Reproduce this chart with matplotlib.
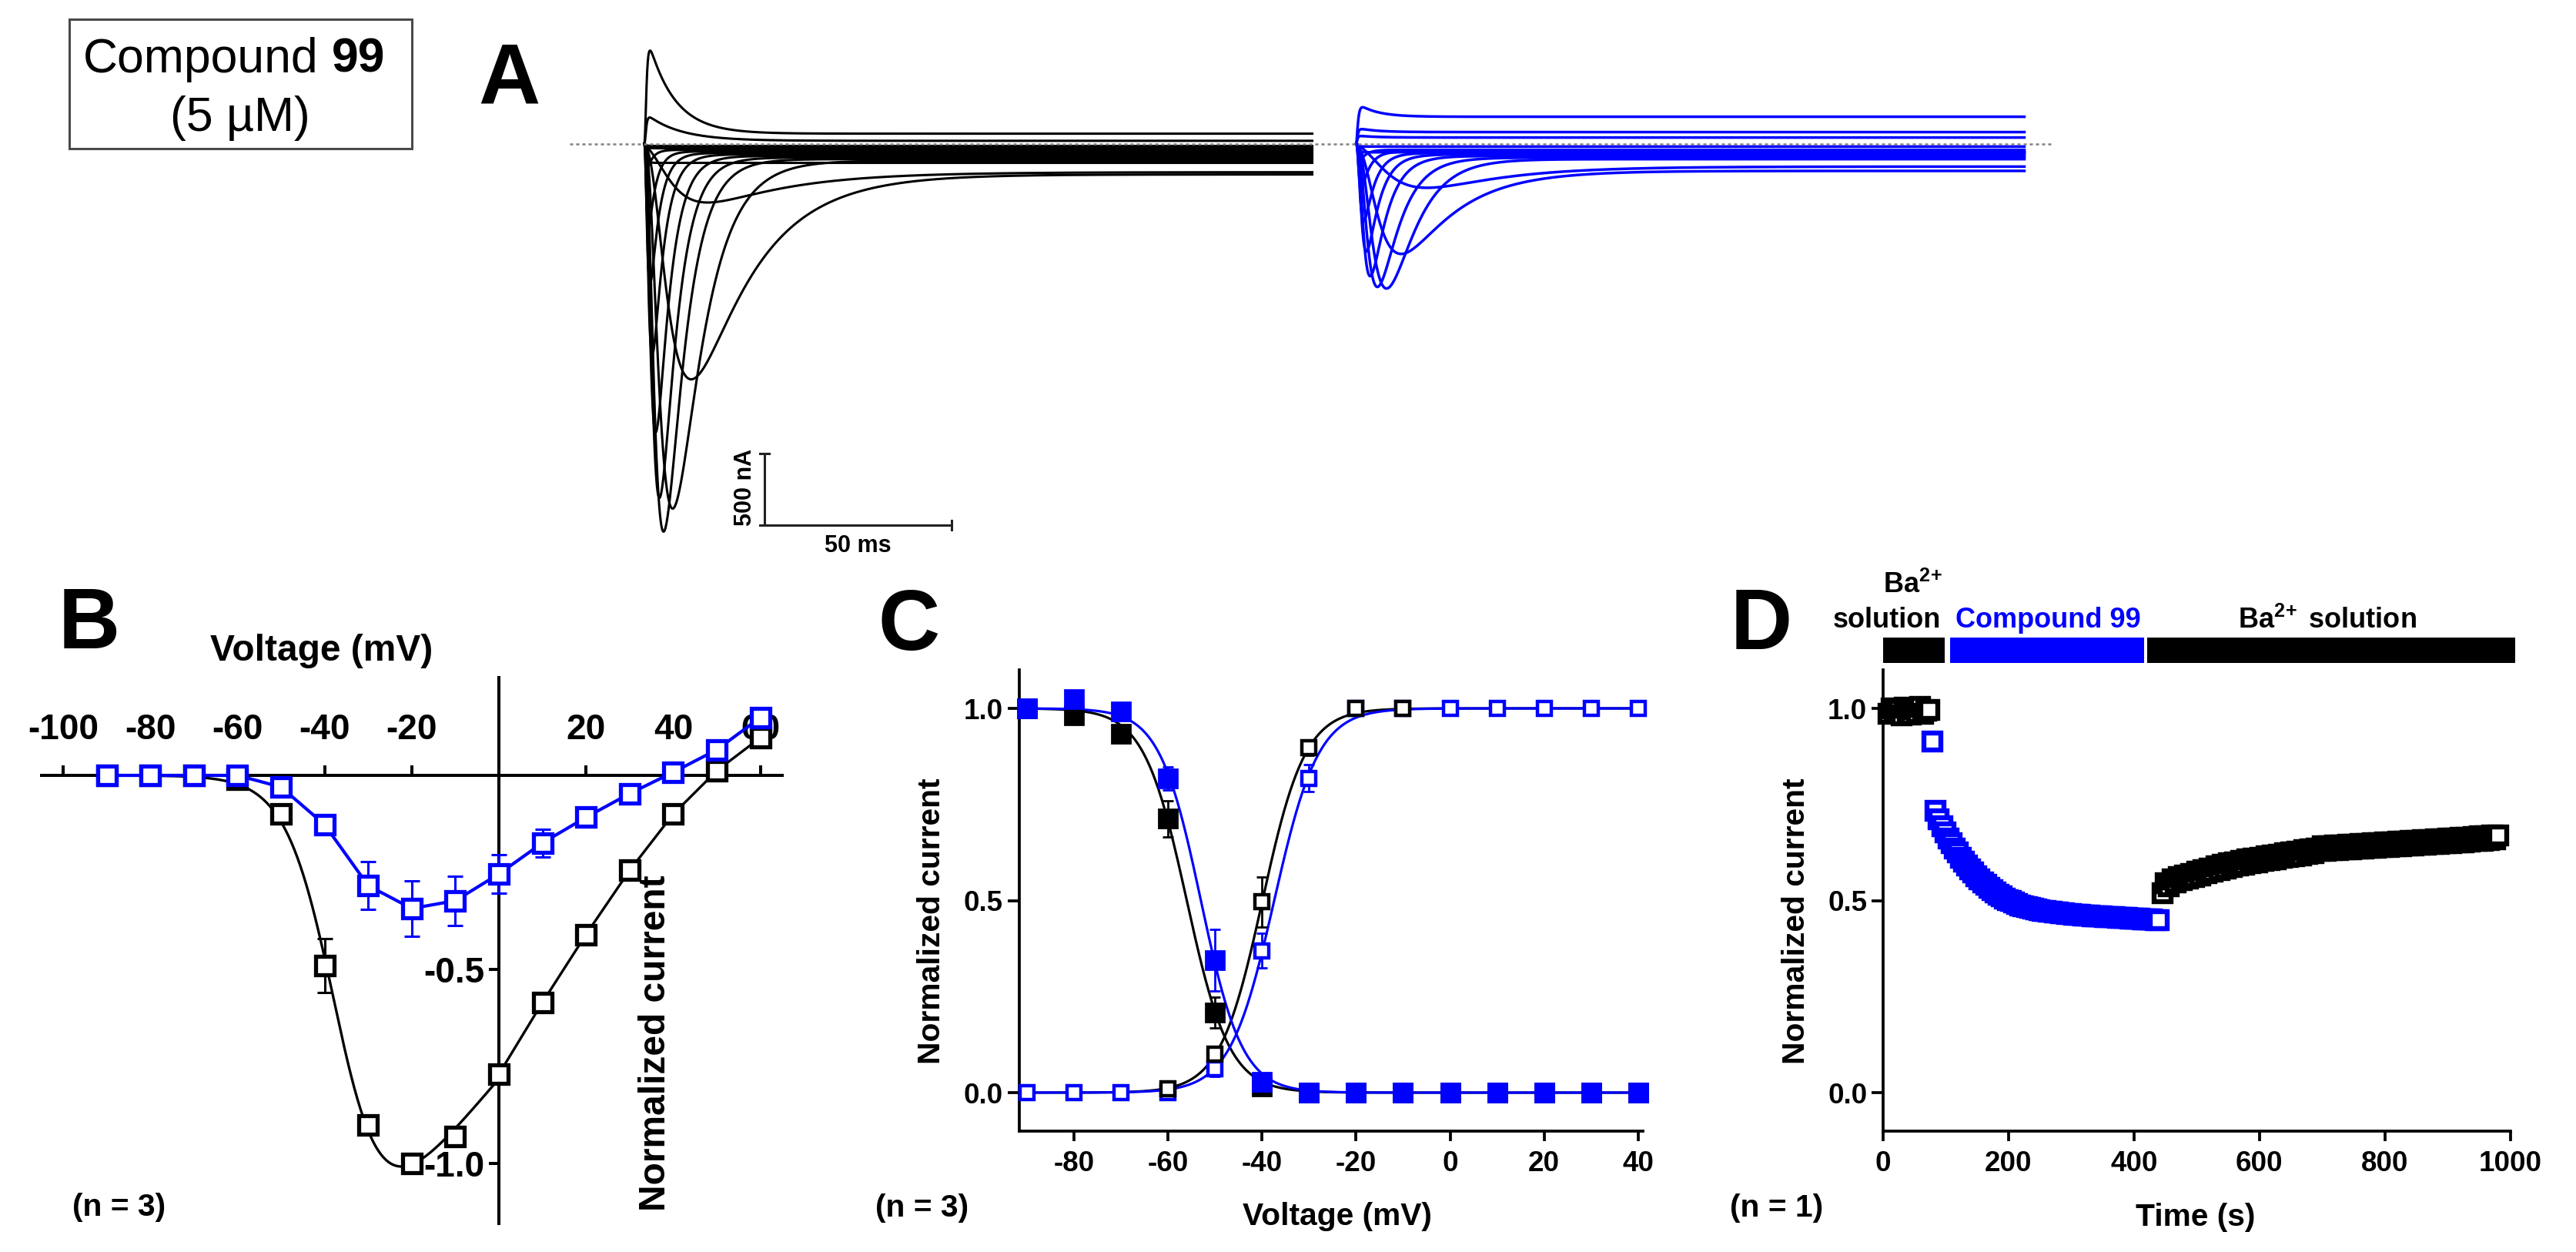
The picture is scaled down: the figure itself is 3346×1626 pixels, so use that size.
import numpy as np
import matplotlib
matplotlib.use("Agg")
import matplotlib.pyplot as plt
from matplotlib.patches import Rectangle

plt.rcParams['font.family'] = ['Liberation Sans', 'DejaVu Sans']
plt.rcParams['font.weight'] = 'bold'
plt.rcParams['axes.labelweight'] = 'bold'
plt.rcParams['axes.unicode_minus'] = False
plt.rcParams['mathtext.fontset'] = 'custom'
plt.rcParams['mathtext.rm'] = 'Liberation Sans:bold'
plt.rcParams['mathtext.it'] = 'Liberation Sans:bold'
plt.rcParams['mathtext.bf'] = 'Liberation Sans:bold'

BLUE = '#0000FF'
W, H, DPI = 3346, 1626, 100

# ================= DATA =================
# Panel A : one entry per voltage step
# peak time (ms), peak current (nA), inactivation tau (ms), steady-state current (nA)
ctrl_tpeak = [1.5, 1.4, 0.8, 1.1, 1.5, 2.1, 3.0, 4.0, 5.1, 7.5, 12.3, 15.5, 1.0, 1.0, 1.0]
ctrl_ipeak = [650, 183, -161, -570, -978, -1473, -2016, -2473, -2709, -2548, -1645, -409, 0, 0, 0]
ctrl_tauh = [7, 9, 1.5, 2.0, 2.5, 3.0, 3.6, 4.3, 5.2, 7.5, 16, 22, 1, 1, 1]
ctrl_iss = [70, 20, -43, -54, -65, -75, -86, -97, -108, -118, -215, -199, -16, -32, -134]

cmp_tpeak = [1.4, 1.2, 1.0, 0.9, 1.3, 1.9, 2.6, 3.6, 5.5, 7.9, 11.5, 17.0, 1.0, 1.0]
cmp_ipeak = [253, 101, 53, -108, -296, -538, -753, -925, -1000, -1011, -769, -306, 0, 0]
cmp_tauh = [5, 5, 5, 1.8, 2.2, 2.8, 3.4, 4.2, 5.5, 7.0, 14, 20, 1, 1]
cmp_iss = [188, 81, 43, -43, -54, -65, -75, -86, -97, -108, -190, -160, -20, -60]
trace_duration_ms = 178.5

# Panel B : I-V
iv_v = [-90, -80, -70, -60, -50, -40, -30, -20, -10, 0, 10, 20, 30, 40, 50, 60]
iv_ctrl = [0.0, 0.0, 0.0, -0.01, -0.10, -0.49, -0.90, -1.00, -0.93, -0.77, -0.585, -0.41, -0.245, -0.10, 0.012, 0.097]
iv_ctrl_err = [0, 0, 0, 0.01, 0.01, 0.07, 0.02, 0.01, 0.02, 0.01, 0.01, 0.01, 0.01, 0.01, 0.01, 0.01]
iv_cmp = [0.0, 0.0, 0.0, 0.0, -0.03, -0.127, -0.284, -0.343, -0.323, -0.254, -0.174, -0.108, -0.047, 0.008, 0.066, 0.149]
iv_cmp_err = [0, 0, 0, 0.005, 0.012, 0.012, 0.061, 0.071, 0.064, 0.05, 0.036, 0.012, 0.01, 0.01, 0.01, 0.01]

# Panel C : activation / inactivation
c_v = [-90, -80, -70, -60, -50, -40, -30, -20, -10, 0, 10, 20, 30, 40]
inact_ctrl = [1.0, 0.982, 0.934, 0.713, 0.208, 0.016, 0, 0, 0, 0, 0, 0, 0, 0]
inact_ctrl_err = [0, 0.01, 0.01, 0.047, 0.04, 0.005, 0, 0, 0, 0, 0, 0, 0, 0]
inact_cmp = [1.0, 1.024, 0.992, 0.818, 0.345, 0.028, 0, 0, 0, 0, 0, 0, 0, 0]
inact_cmp_err = [0, 0.01, 0.01, 0.03, 0.08, 0.01, 0, 0, 0, 0, 0, 0, 0, 0]
act_ctrl_v = [-60, -50, -40, -30, -20, -10]
act_ctrl = [0.01, 0.10, 0.496, 0.898, 1.0, 1.0]
act_ctrl_err = [0.01, 0.02, 0.065, 0.02, 0, 0]
act_cmp = [0, 0, 0, 0, 0.063, 0.369, 0.818, 1.0, 1.0, 1.0, 1.0, 1.0, 1.0, 1.0]
act_cmp_err = [0, 0, 0, 0, 0.02, 0.045, 0.035, 0, 0, 0, 0, 0, 0, 0]

# Panel D : time course
d_ctrl1_t = np.arange(9, 78, 5)
d_ctrl1 = [0.985, 1.000, 0.988, 0.996, 0.982, 1.002, 0.990, 0.984, 0.998, 0.988, 1.004, 0.986, 0.994, 0.996]
d_cmp_t = np.arange(79, 444, 5)
d_cmp = [0.914, 0.733,
         0.712, 0.694, 0.678, 0.662, 0.650, 0.636, 0.625, 0.612, 0.602, 0.592,
         0.582, 0.573, 0.564, 0.556, 0.548, 0.541, 0.534, 0.528, 0.522, 0.516,
         0.511, 0.506, 0.502, 0.498, 0.494, 0.490, 0.487, 0.485, 0.482, 0.480,
         0.478, 0.476, 0.475, 0.473, 0.472, 0.471, 0.470, 0.469, 0.468, 0.467,
         0.466, 0.465, 0.464, 0.463, 0.463, 0.462, 0.461, 0.461, 0.460, 0.459,
         0.459, 0.458, 0.458, 0.457, 0.457, 0.456, 0.456, 0.455, 0.455, 0.454,
         0.454, 0.453, 0.453, 0.452, 0.452, 0.451, 0.451, 0.450, 0.450, 0.449,
         0.449]
d_ctrl2_t = np.arange(446, 986, 5)
d_ctrl2 = [0.520, 0.545, 0.538, 0.556, 0.548, 0.562, 0.553, 0.566, 0.558, 0.570,
           0.562, 0.576, 0.566, 0.580, 0.571, 0.584, 0.575, 0.590, 0.579, 0.593,
           0.584, 0.597, 0.588, 0.600, 0.591, 0.604, 0.594, 0.607, 0.597, 0.609,
           0.600, 0.612, 0.603, 0.615, 0.606, 0.618, 0.608, 0.620, 0.611, 0.623,
           0.613, 0.626, 0.616, 0.628, 0.618, 0.631, 0.621, 0.633, 0.623, 0.636,
           0.629, 0.641, 0.630, 0.642, 0.631, 0.643, 0.632, 0.644, 0.633, 0.645,
           0.634, 0.646, 0.635, 0.647, 0.636, 0.648, 0.637, 0.649, 0.638, 0.650,
           0.639, 0.651, 0.640, 0.652, 0.641, 0.653, 0.642, 0.654, 0.643, 0.655,
           0.644, 0.656, 0.645, 0.657, 0.646, 0.658, 0.647, 0.659, 0.648, 0.660,
           0.649, 0.661, 0.650, 0.662, 0.651, 0.663, 0.652, 0.664, 0.653, 0.665,
           0.655, 0.667, 0.656, 0.668, 0.657, 0.669, 0.660, 0.670]
d_bars = [(0, 98, 'k'), (107, 416, BLUE), (421, 1008, 'k')]

# ================= HELPERS =================
fig = plt.figure(figsize=(W / DPI, H / DPI), dpi=DPI)


def ax_px(x0, y0, x1, y1):
    return fig.add_axes([x0 / W, 1 - y1 / H, (x1 - x0) / W, (y1 - y0) / H])


def txt(x, y, s, **kw):
    return fig.text(x / W, 1 - y / H, s, **kw)


def trace(tp, amp, th, ss, t):
    if amp == 0:
        return ss * (1 - np.exp(-t / 0.5))
    lo, hi = 1e-4, tp
    for _ in range(80):
        mid = 0.5 * (lo + hi)
        if mid * np.log(1 + 3 * th / mid) < tp:
            lo = mid
        else:
            hi = mid
    tm = 0.5 * (lo + hi)
    f = (1 - np.exp(-t / tm)) ** 3 * np.exp(-t / th)
    f = f / f.max()
    base = ss * (1 - np.exp(-t / tm))
    amp_tr = amp - ss * (1 - np.exp(-tp / tm))
    return amp_tr * f + base


def fit_iv(v, i):
    best = None
    for v50 in np.arange(-50, -20, 0.25):
        for k in np.arange(2, 12, 0.1):
            s = 1 / (1 + np.exp((v50 - v) / k))
            A = np.column_stack([v * s, -s])
            coef = np.linalg.lstsq(A, i, rcond=None)[0]
            sse = np.sum((A @ coef - i) ** 2)
            if best is None or sse < best[0]:
                best = (sse, v50, k, coef)
    return best[1:]


def fit_boltz(v, y, sign):
    v = np.asarray(v, float)
    y = np.asarray(y, float)
    V50 = np.arange(-70, -20, 0.1)[:, None, None]
    K = np.arange(1, 12, 0.05)[None, :, None]
    pred = 1 / (1 + np.exp(sign * (V50 - v[None, None, :]) / K))
    sse = ((pred - y) ** 2).sum(-1)
    i0, i1 = np.unravel_index(np.argmin(sse), sse.shape)
    return V50.ravel()[i0], K.ravel()[i1]


# ================= PANEL A =================
PX_MS, PX_NA = 4.86, 0.186
X0_CTRL, X0_CMP, Y_BASE = 837, 1762, 186.6
axA = ax_px(700, 20, 2700, 710)
axA.set_xlim((700 - X0_CTRL) / PX_MS, (2700 - X0_CTRL) / PX_MS)
axA.set_ylim((Y_BASE - 710) / PX_NA, (Y_BASE - 20) / PX_NA)
axA.axis('off')
t = np.linspace(0, trace_duration_ms, 3571)
for tp, a, th, ss in zip(ctrl_tpeak, ctrl_ipeak, ctrl_tauh, ctrl_iss):
    axA.plot(t, trace(tp, a, th, ss, t), color='k', lw=2.2, zorder=2)
cmp_off = (X0_CMP - X0_CTRL) / PX_MS
for tp, a, th, ss in zip(cmp_tpeak, cmp_ipeak, cmp_tauh, cmp_iss):
    axA.plot(t + cmp_off, trace(tp, a, th, ss, t), color=BLUE, lw=2.5, zorder=2)
axA.plot([(740 - X0_CTRL) / PX_MS, (2665 - X0_CTRL) / PX_MS], [0, 0], color='#808080',
         lw=1.8, ls=(0, (1.6, 1.6)), zorder=5)
# scale bar
sx = (993 - X0_CTRL) / PX_MS
sy = (Y_BASE - 682) / PX_NA
axA.plot([sx, sx, sx + 50], [sy + 500, sy, sy], color='#222222', lw=2.2, solid_capstyle='butt')
axA.plot([sx - 1.3, sx + 1.3], [sy + 500, sy + 500], color='#222222', lw=2.2)
axA.plot([sx + 50, sx + 50], [sy - 32, sy + 32], color='#222222', lw=2.2)
axA.plot([sx - 1.3, sx], [sy, sy], color='#222222', lw=2.2)
txt(968, 633, "500 nA", fontsize=22, rotation=90, ha='center', va='center')
txt(1114, 717, "50 ms", fontsize=22, ha='center', va='baseline')

# ================= PANEL B =================
v_iv = np.array(iv_v, float)
i_ctrl = np.array(iv_ctrl, float)
axB = ax_px(53.7, 880, 1015.9, 1589.1)
axB.set_xlim(-105, 65)
axB.set_ylim(-1.155, 0.252)
axB.patch.set_alpha(0)
for s in ['bottom', 'right']:
    axB.spines[s].set_visible(False)
axB.spines['top'].set_position(('data', 0))
axB.spines['left'].set_position(('data', 0))
for s in ['top', 'left']:
    axB.spines[s].set_linewidth(2.9)
axB.xaxis.set_ticks_position('top')
axB.set_xticks([-100, -80, -60, -40, -20, 20, 40, 60])
axB.set_xticklabels(['-100', '-80', '-60', '-40', '-20', '20', '40', '60'])
axB.set_yticks([-1.0, -0.5])
axB.set_yticklabels(['-1.0', '-0.5'])
axB.tick_params(axis='x', direction='out', length=9.5, width=2.9, pad=17, labelsize=33)
axB.tick_params(axis='y', direction='out', length=9.5, width=2.9, pad=4, labelsize=33)

msk = v_iv <= 0
v50, k, coef = fit_iv(v_iv[msk], i_ctrl[msk])
vf = np.linspace(-90, 0, 400)
sf = 1 / (1 + np.exp((v50 - vf) / k))
axB.plot(vf, coef[0] * vf * sf - coef[1] * sf, color='k', lw=2.4, zorder=3)
axB.plot(v_iv[v_iv >= 0], i_ctrl[v_iv >= 0], color='k', lw=2.4, zorder=3)
axB.errorbar(iv_v, iv_ctrl, yerr=iv_ctrl_err, fmt='none', ecolor='k', elinewidth=2.2,
             capsize=7, capthick=2.2, zorder=4)
axB.plot(iv_v, iv_ctrl, ls='none', marker='s', ms=17.3, mew=3.8, mfc='white', mec='k',
         zorder=5, clip_on=False)
axB.errorbar(iv_v, iv_cmp, yerr=iv_cmp_err, fmt='none', ecolor=BLUE, elinewidth=2.2,
             capsize=7, capthick=2.2, zorder=6)
axB.plot(iv_v, iv_cmp, color=BLUE, lw=3.0, marker='s', ms=17.3, mew=3.8, mfc='white',
         mec=BLUE, zorder=7, clip_on=False)

txt(418, 858, "Voltage (mV)", fontsize=34.5, ha='center', va='baseline')
txt(852, 1355, "Normalized current", fontsize=34.5, rotation=90, ha='center', va='center')
txt(155, 1579, "(n = 3)", fontsize=29.3, ha='center', va='baseline')

# ================= PANEL C =================
def style_cd(ax):
    ax.spines['top'].set_visible(False)
    ax.spines['right'].set_visible(False)
    for s in ['left', 'bottom']:
        ax.spines[s].set_linewidth(2.7)
    ax.tick_params(axis='x', direction='out', length=9, width=2.7, pad=9, labelsize=26.5)
    ax.tick_params(axis='y', direction='out', length=11, width=2.7, pad=4, labelsize=26.5)
    ax.set_ylim(-0.1, 1.1)
    ax.set_yticks([0, 0.5, 1.0])
    ax.set_yticklabels(['0.0', '0.5', '1.0'])
    ax.patch.set_alpha(0)

axC = ax_px(1323.5, 870.1, 2133.9, 1468.9)
axC.set_xlim(-91.7, 41)
style_cd(axC)
axC.set_xticks([-80, -60, -40, -20, 0, 20, 40])
axC.set_xticklabels(['-80', '-60', '-40', '-20', '0', '20', '40'])

vc = np.linspace(-90, 40, 600)
a_v50, a_k = fit_boltz(act_ctrl_v, act_ctrl, 1)
b_v50, b_k = fit_boltz(c_v, act_cmp, 1)
ai_v50, ai_k = fit_boltz(c_v, inact_ctrl, -1)
bi_v50, bi_k = fit_boltz(c_v, inact_cmp, -1)
axC.plot(vc, 1 / (1 + np.exp((a_v50 - vc) / a_k)), color='k', lw=2.3, zorder=2)
axC.plot(vc, 1 / (1 + np.exp((vc - ai_v50) / ai_k)), color='k', lw=2.3, zorder=2)
axC.plot(vc, 1 / (1 + np.exp((b_v50 - vc) / b_k)), color=BLUE, lw=2.3, zorder=2.2)
axC.plot(vc, 1 / (1 + np.exp((vc - bi_v50) / bi_k)), color=BLUE, lw=2.3, zorder=2.2)

ekw = dict(fmt='none', elinewidth=2.0, capsize=5, capthick=2.0)
axC.errorbar(c_v, inact_ctrl, yerr=inact_ctrl_err, ecolor='k', zorder=3, **ekw)
axC.errorbar(c_v, inact_cmp, yerr=inact_cmp_err, ecolor=BLUE, zorder=3, **ekw)
axC.errorbar(c_v, act_cmp, yerr=act_cmp_err, ecolor=BLUE, zorder=3, **ekw)
axC.errorbar(act_ctrl_v, act_ctrl, yerr=act_ctrl_err, ecolor='k', zorder=3, **ekw)
axC.plot(c_v, inact_ctrl, ls='none', marker='s', ms=17.5, mew=2, mfc='k', mec='k', zorder=4, clip_on=False)
axC.plot(c_v, inact_cmp, ls='none', marker='s', ms=17.5, mew=2, mfc=BLUE, mec=BLUE, zorder=5, clip_on=False)
axC.plot(c_v, act_cmp, ls='none', marker='s', ms=13.5, mew=3.2, mfc='white', mec=BLUE, zorder=6, clip_on=False)
axC.plot(act_ctrl_v, act_ctrl, ls='none', marker='s', ms=13.5, mew=3.2, mfc='white', mec='k', zorder=7, clip_on=False)

txt(1737, 1591, "Voltage (mV)", fontsize=29.3, ha='center', va='baseline')
txt(1210, 1196, "Normalized current", fontsize=29.3, rotation=90, ha='center', va='center')
txt(1198, 1580, "(n = 3)", fontsize=29.3, ha='center', va='baseline')

# ================= PANEL D =================
axD = ax_px(2446, 870.1, 3260.6, 1468.9)
axD.set_xlim(0, 1000)
style_cd(axD)
axD.set_xticks([0, 200, 400, 600, 800, 1000])
axD.set_xticklabels(['0', '200', '400', '600', '800', '1000'])
mk = dict(ls='none', marker='s', ms=15.5, mew=4.6, mfc='white', clip_on=False)
axD.plot(d_ctrl1_t, d_ctrl1, mec='k', zorder=4, **mk)
axD.plot(d_ctrl2_t, d_ctrl2, mec='k', zorder=4, **mk)
axD.plot(d_cmp_t, d_cmp, mec=BLUE, zorder=5, **mk)
for x0, x1, c in d_bars:
    axD.add_patch(Rectangle((x0, 1.118), x1 - x0, 0.066, facecolor=c, edgecolor='none',
                            clip_on=False, zorder=3))
txt(2484, 770, r"Ba$^{2\!+}$", fontsize=26, ha='center', va='baseline')
txt(2451, 815, "solution", fontsize=26, ha='center', va='baseline')
txt(2660, 815, "Compound 99", fontsize=26, ha='center', va='baseline', color=BLUE)
txt(3023, 816, r"Ba$^{2\!+}$ solution", fontsize=26, ha='center', va='baseline')

txt(2852, 1592, "Time (s)", fontsize=29.3, ha='center', va='baseline')
txt(2333, 1196, "Normalized current", fontsize=29.3, rotation=90, ha='center', va='center')
txt(2308, 1580, "(n = 1)", fontsize=29.3, ha='center', va='baseline')

# ================= LETTERS & BOX =================
for x, y, s in [(661, 134, 'A'), (115.5, 842, 'B'), (1180.5, 844, 'C'), (2287.5, 843, 'D')]:
    txt(x, y, s, fontsize=80, ha='center', va='baseline')

fig.patches.append(Rectangle((89.5 / W, 1 - 193 / H), (535 - 89.5) / W, (193 - 25.4) / H,
                             transform=fig.transFigure, fill=False, edgecolor='#4a4a4a', lw=2.2))
t1 = txt(108, 94, "Compound", fontsize=45, fontweight='normal', ha='left', va='baseline')
r = fig.canvas.get_renderer()
bb = t1.get_window_extent(r)
txt(bb.x1 + 17.4, 94, "99", fontsize=45, fontweight='bold', ha='left', va='baseline')
txt(312, 170, "(5 µM)", fontsize=45, fontweight='normal', ha='center', va='baseline')

fig.savefig('out.png', dpi=DPI)
